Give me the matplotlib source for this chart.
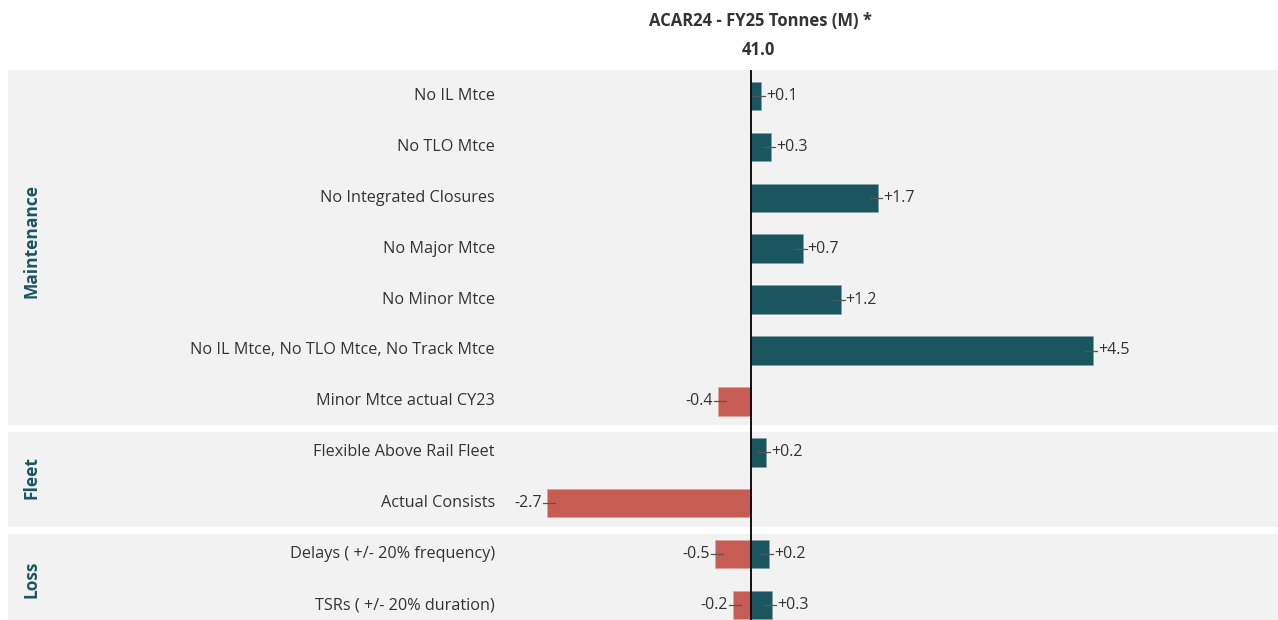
import numpy as np
import matplotlib.pyplot as plt
from matplotlib.transforms import blended_transform_factory

plt.rcParams['font.family'] = ['Open Sans', 'DejaVu Sans']

# data
categories = ['No IL Mtce', 'No TLO Mtce', 'No Integrated Closures', 'No Major Mtce',
              'No Minor Mtce', 'No IL Mtce, No TLO Mtce, No Track Mtce', 'Minor Mtce actual CY23',
              'Flexible Above Rail Fleet', 'Actual Consists',
              'Delays ( +/- 20% frequency)', 'TSRs ( +/- 20% duration)']
upside = [0.13, 0.26, 1.67, 0.68, 1.18, 4.5, np.nan, 0.2, np.nan, 0.24, 0.28]
downside = [np.nan, np.nan, np.nan, np.nan, np.nan, np.nan, -0.44, np.nan, -2.69, -0.47, -0.24]
groups = ['Maintenance', 'Fleet', 'Loss']
group_rows = [(0, 6), (7, 8), (9, 10)]
base_value = 41.0
title = 'ACAR24 - FY25 Tonnes (M) *'

teal = '#1b5660'
red = '#c65d54'
panel = '#f2f2f2'
txt = '#333333'

fig = plt.figure(figsize=(12.78, 6.2), dpi=100)
ax = fig.add_axes([0, 0, 1, 1])
ppu = 76.0  # pixels per unit
ax.set_xlim(-751 / ppu, (1278 - 751) / ppu)
ax.set_ylim((620 - 96) / 50.9, -96 / 50.9)
ax.axis('off')

bt = blended_transform_factory(ax.transAxes, ax.transData)

# panels
for (a, b), g in zip(group_rows, groups):
    top = a - 0.51 if a == 0 else a - 0.4
    ax.add_patch(plt.Rectangle((0.0065, top), 1.0, (b + 0.46) - top, transform=bt,
                               facecolor=panel, edgecolor='none', zorder=0))
    ax.text(0.025, (a + b) / 2 - (0.15 if a == 0 else 0), g, transform=bt, rotation=90,
            ha='center', va='center', fontsize=12.5, fontweight='bold', color=teal)

y = np.arange(len(categories))
ax.barh(y, upside, height=0.56, color=teal, edgecolor='#7fa0a5', linewidth=0.4, zorder=2)
ax.barh(y, downside, height=0.56, color=red, edgecolor='#e0a39d', linewidth=0.4, zorder=2)

d = 1 / ppu
for i in y:
    for v in (upside[i], downside[i]):
        if np.isnan(v):
            continue
        s = 1 if v > 0 else -1
        ax.plot([v - s * 8 * d, v + s * 4 * d], [i, i], color='#555555', lw=0.9, zorder=3)
        ax.text(v + s * 5 * d, i, f'{v:+.1f}', ha='left' if s > 0 else 'right', va='center',
                fontsize=11.5, color=txt, zorder=4)
    ax.text((495 - 751) / ppu, i, categories[i], ha='right', va='center', fontsize=11.7, color=txt)

ax.plot([0, 0], [-0.5, 10.5], color='black', lw=1.3, zorder=5)

fig.text(760 / 1278, 1 - 21 / 620, title, ha='center', va='center', fontsize=12,
         fontweight='bold', color=txt)
fig.text(758 / 1278, 1 - 50 / 620, f'{base_value:.1f}', ha='center', va='center', fontsize=12,
         fontweight='bold', color=txt)

fig.savefig('out.png', dpi=100)
